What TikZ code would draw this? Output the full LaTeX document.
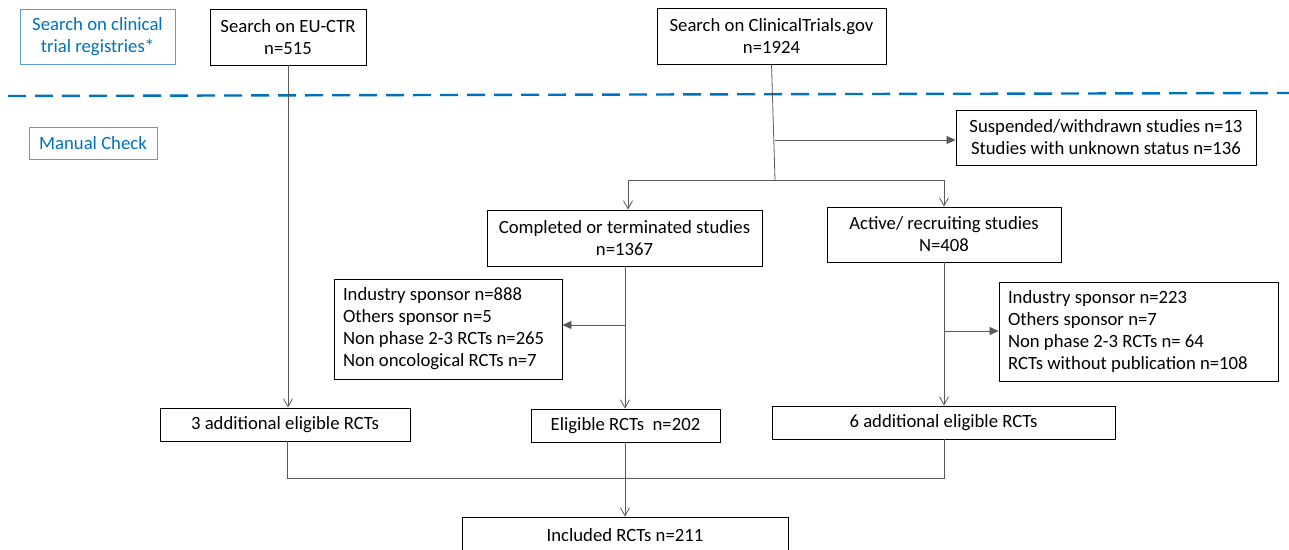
\documentclass[tikz,border=0pt]{standalone}
\usepackage{fontspec}
\setmainfont{Carlito}
\usetikzlibrary{arrows.meta}
\definecolor{regblue}{HTML}{0070C0}
\definecolor{regborder}{HTML}{5B9BD5}
\definecolor{conn}{HTML}{595959}
\tikzset{
  box/.style={draw=black, line width=0.9pt, fill=white, align=center, inner sep=4pt, font=\fontsize{18.7}{22}\selectfont},
  lbox/.style={box, align=flush left, inner xsep=9pt},
  bluebox/.style={draw=regborder, line width=0.9pt, align=center, text=regblue, font=\fontsize{18.7}{22}\selectfont},
  conline/.style={draw=conn, line width=0.8pt},
  openarr/.style={conline, -{Straight Barb[length=8pt,width=9pt,line width=0.8pt]}},
  fillarr/.style={conline, -{Triangle[length=9pt,width=8pt]}},
}
\begin{document}
\begin{tikzpicture}[x=1pt,y=-1pt]
\useasboundingbox (0,0) rectangle (1289,549);
% registry labels
\node[bluebox, minimum width=155pt, minimum height=55pt] (reg) at (97.5,36.5) {Search on clinical\\trial registries*};
\node[bluebox, minimum width=128pt, minimum height=32pt] (man) at (93,143) {Manual Check};
\draw[regblue, line width=2.4pt, dash pattern=on 18pt off 9pt] (8,96) -- (1289,93);
% boxes
\node[box, minimum width=156pt, minimum height=56pt] (eu) at (288,37) {Search on EU-CTR\\n=515};
\node[box, minimum width=229pt, minimum height=56pt] (ct) at (771.5,36) {Search on ClinicalTrials.gov\\n=1924};
\node[box, minimum width=300pt, minimum height=55pt] (susp) at (1106,137.5) {Suspended/withdrawn studies n=13\\Studies with unknown status n=136};
\node[box, minimum width=275pt, minimum height=56pt] (comp) at (624.5,238) {Completed or terminated studies\\n=1367};
\node[box, minimum width=234pt, minimum height=55pt] (act) at (944,234.5) {Active/ recruiting studies\\N=408};
\node[lbox, text width=210pt, minimum height=100pt] (ex1) at (448,329) {Industry sponsor n=888\\Others sponsor n=5\\Non phase 2-3 RCTs n=265\\Non oncological RCTs n=7};
\node[lbox, text width=261pt, minimum height=99pt] (ex2) at (1138.5,331.5) {Industry sponsor n=223\\Others sponsor n=7\\Non phase 2-3 RCTs n= 64\\RCTs without publication n=108};
\node[box, minimum width=250pt, minimum height=33pt] (three) at (285,424.5) {3 additional eligible RCTs};
\node[box, minimum width=189pt, minimum height=33pt] (elig) at (625.5,425.5) {Eligible RCTs\ \ n=202};
\node[box, minimum width=343pt, minimum height=33pt] (six) at (943.5,422.5) {6 additional eligible RCTs};
\node[box, minimum width=326pt, minimum height=36pt] (incl) at (625,535) {Included RCTs n=211};
% junction coordinates
\coordinate (j0) at (775,180);
\coordinate (jl) at (628,180);
\coordinate (jr) at (944,180);
\coordinate (b1) at (775,140);
\coordinate (b2) at (625,325);
\coordinate (b3) at (944,331);
\coordinate (m1) at (287,478);
\coordinate (m2) at (944,478);
% connectors
\draw[conline] (ct.south) -- (j0);
\draw[fillarr] (b1) -- (b1 -| susp.west);
\draw[conline] (jl) -- (jr);
\draw[openarr] (jl) -- (jl |- comp.north);
\draw[openarr] (jr) -- (jr |- act.north);
\draw[openarr] (comp.south -| b2) -- (elig.north -| b2);
\draw[fillarr] (b2) -- (b2 -| ex1.east);
\draw[openarr] (act.south -| b3) -- (six.north -| b3);
\draw[fillarr] (b3) -- (b3 -| ex2.west);
\draw[openarr] (eu.south) -- (eu.south |- three.north);
\draw[conline] (three.south -| m1) -- (m1) -- (m2) -- (six.south -| m2);
\draw[openarr] (elig.south -| b2) -- (incl.north -| b2);
\end{tikzpicture}
\end{document}
